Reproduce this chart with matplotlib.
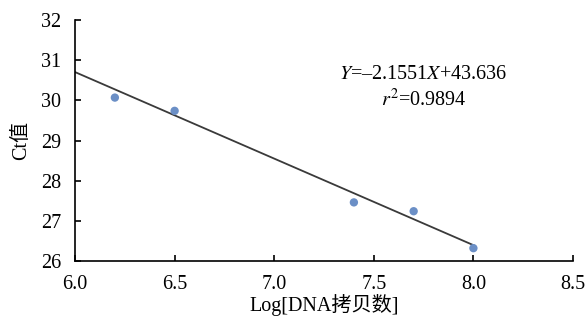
import numpy as np
import matplotlib
matplotlib.use("Agg")
import matplotlib.pyplot as plt

# Log copy number vs Ct value
log_copies = [6.2, 6.5, 7.4, 7.7, 8.0]
ct_values = [30.07, 29.74, 27.46, 27.24, 26.32]
slope = -2.1551
intercept = 43.636
r_squared = 0.9894
fit_range = [6.0, 8.0]
x_ticks = [6.0, 6.5, 7.0, 7.5, 8.0, 8.5]
y_ticks = [26, 27, 28, 29, 30, 31, 32]

plt.rcParams['font.family'] = ['Liberation Serif', 'Noto Sans CJK SC']
plt.rcParams['mathtext.fontset'] = 'stix'

fig = plt.figure(figsize=(5.88, 3.24), dpi=100)
ax = fig.add_axes([0.1276, 0.1944, 0.8469, 0.7436])

fx = np.array(fit_range)
ax.plot(fx, slope * fx + intercept, color="#3a3a3a", lw=1.3, zorder=2)
ax.scatter(log_copies, ct_values, s=36, color="#6b8fc6", zorder=3, edgecolors="none")

ax.set_xlim(6.0, 8.5)
ax.set_ylim(26, 32)
ax.set_xticks(x_ticks)
ax.set_xticklabels([f"{v:.1f}" for v in x_ticks])
ax.set_yticks(y_ticks)
for s in ["top", "right"]:
    ax.spines[s].set_visible(False)
for s in ["left", "bottom"]:
    ax.spines[s].set_linewidth(1.2)
ax.tick_params(direction="in", length=4, width=1.2, labelsize=14.5)
ax.tick_params(axis="y", pad=10)
ax.tick_params(axis="x", pad=10)

ax.set_xlabel("Log[DNA拷贝数]", fontsize=14.5, labelpad=0)
ax.set_ylabel("Ct值", fontsize=14.5, labelpad=7)

ax.text(7.75, 30.64, r"$Y$=–2.1551$X$+43.636", fontsize=14.5, ha="center", va="center")
ax.text(7.75, 30.0, r"$r^2$=0.9894", fontsize=14.5, ha="center", va="center")

fig.savefig("out.png", dpi=100)
